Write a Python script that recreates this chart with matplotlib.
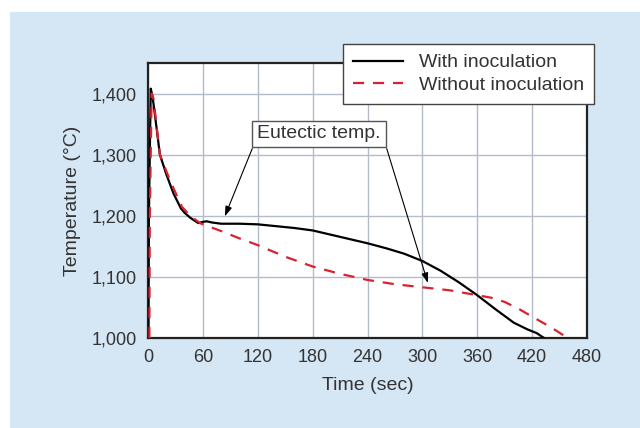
import matplotlib.pyplot as plt
from matplotlib.patches import Rectangle
from matplotlib.lines import Line2D

plt.rcParams['font.family'] = ['Liberation Sans', 'DejaVu Sans']

# with inoculation (black, solid)
t_with = [0.5, 1, 3, 5, 8, 13, 20, 28, 36, 40, 46, 55, 60, 64, 70, 80, 100, 120, 140, 160, 180,
          200, 220, 240, 260, 280, 300, 320, 340, 360, 380, 400, 415, 425, 433]
temp_with = [1000, 1200, 1408, 1395, 1360, 1300, 1268, 1236, 1212, 1205, 1197, 1188, 1190, 1191,
             1189, 1187, 1187, 1186, 1183, 1180, 1176, 1169, 1162, 1155, 1147, 1138, 1126, 1110,
             1091, 1070, 1047, 1025, 1014, 1008, 1000]

# without inoculation (red, dashed)
t_without = [1.5, 2, 4, 6, 13, 24, 37, 46, 57, 60, 80, 100, 120, 150, 180, 210, 240, 270,
             300, 330, 360, 375, 390, 405, 420, 440, 459]
temp_without = [1000, 1200, 1400, 1392, 1300, 1258, 1215, 1200, 1188, 1186, 1175, 1163, 1152,
                1133, 1117, 1105, 1095, 1088, 1083, 1078, 1070, 1066, 1059, 1048, 1035, 1018, 1000]

x_ticks = [0, 60, 120, 180, 240, 300, 360, 420, 480]
y_ticks = [1000, 1100, 1200, 1300, 1400]
y_labels = ['1,000', '1,100', '1,200', '1,300', '1,400']

label_color = '#333333'
red = '#d9222e'

fig = plt.figure(figsize=(6.4, 4.28), dpi=100)
fig.patch.set_facecolor('white')
fig.patches.append(Rectangle((10 / 640, 0), 1, 1 - 12 / 428, transform=fig.transFigure,
                             facecolor='#d5e6f5', edgecolor='none', zorder=-10))

ax = fig.add_axes([148 / 640, 90 / 428, 439 / 640, 275 / 428])
ax.set_facecolor('white')
ax.plot(t_with, temp_with, color='black', lw=1.6, zorder=3)
ax.plot(t_without, temp_without, color=red, lw=1.6, ls=(0, (5, 4)), zorder=3)

ax.set_xlim(0, 480)
ax.set_ylim(1000, 1450)
ax.set_xticks(x_ticks)
ax.set_yticks(y_ticks)
ax.set_yticklabels(y_labels)
ax.tick_params(length=0, labelsize=13, labelcolor=label_color, pad=8)
ax.grid(True, color='#b4bccb', lw=1)
ax.set_axisbelow(True)
for s in ax.spines.values():
    s.set_linewidth(1.6)
    s.set_color('#222222')

ax.set_xlabel('Time (sec)', fontsize=14, color=label_color, labelpad=8)
ax.set_ylabel('Temperature (°C)', fontsize=14, color=label_color, labelpad=8)

# annotation box and arrows
ax.text(187, 1334, 'Eutectic temp.', fontsize=14, color=label_color, ha='center', va='center',
        zorder=5, bbox=dict(boxstyle='square,pad=0.25', facecolor='white', edgecolor='#555555', lw=1))
arrow = dict(arrowstyle='-|>,head_length=0.6,head_width=0.2', color='black', lw=0.8,
             shrinkA=0, shrinkB=0)
ax.annotate('', xy=(84, 1199), xytext=(114, 1310), arrowprops=arrow, zorder=4)
ax.annotate('', xy=(306, 1090), xytext=(261, 1310), arrowprops=arrow, zorder=4)

handles = [Line2D([], [], color='black', lw=1.6),
           Line2D([], [], color=red, lw=1.6, ls=(0, (5, 4)))]
leg = fig.legend(handles, ['With inoculation', 'Without inoculation'], loc='upper left',
                 bbox_to_anchor=(343 / 640, 1 - 44 / 428), fontsize=14, frameon=True,
                 fancybox=False, framealpha=1, edgecolor='#444444', handlelength=2.6,
                 borderpad=0.5, labelspacing=0.25, handletextpad=0.8, borderaxespad=0)
leg.get_frame().set_linewidth(1)
for txt in leg.get_texts():
    txt.set_color(label_color)

fig.savefig('out.png', dpi=100)
